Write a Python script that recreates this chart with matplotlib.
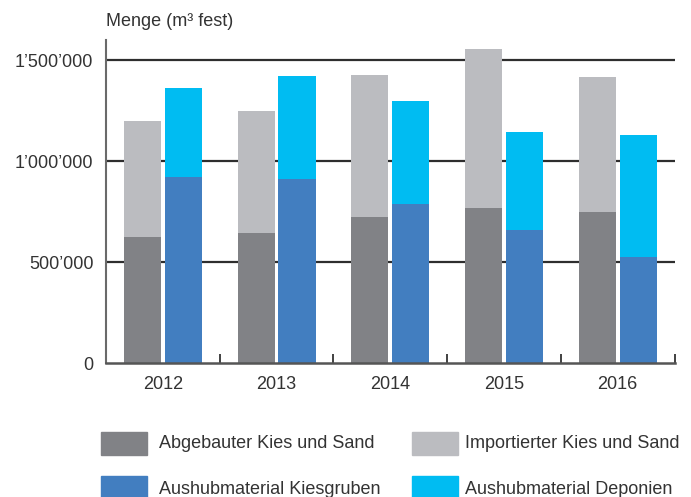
import numpy as np
import matplotlib
matplotlib.use("Agg")
import matplotlib.pyplot as plt
from matplotlib.patches import Rectangle
from matplotlib.ticker import FuncFormatter

plt.rcParams['font.family'] = ['Liberation Sans', 'DejaVu Sans']

# Daten (m3 fest)
jahre = ['2012', '2013', '2014', '2015', '2016']
abgebaut = [625000, 647000, 722000, 767000, 747000]
importiert_total = [1200000, 1249000, 1428000, 1556000, 1418000]
kiesgruben = [922000, 912000, 786000, 658000, 525000]
aushub_total = [1363000, 1422000, 1300000, 1147000, 1132000]

importiert = [t - a for t, a in zip(importiert_total, abgebaut)]
deponien = [t - k for t, k in zip(aushub_total, kiesgruben)]

namen = ['Abgebauter Kies und Sand', 'Importierter Kies und Sand',
         'Aushubmaterial Kiesgruben', 'Aushubmaterial Deponien']
farben = ['#818286', '#bbbcc0', '#427ec0', '#00bcf2']
textfarbe = '#333333'

W, H = 691, 497
fig = plt.figure(figsize=(W / 100, H / 100), dpi=100)
ax = fig.add_axes([106 / W, 133.7 / H, (674.5 - 106) / W, (457 - 133.7) / H])

x = np.arange(len(jahre)) + 0.5
b = 0.326
d = 0.18
ax.bar(x - d, abgebaut, b, color=farben[0], zorder=3)
ax.bar(x - d, importiert, b, bottom=abgebaut, color=farben[1], zorder=3)
ax.bar(x + d, kiesgruben, b, color=farben[2], zorder=3)
ax.bar(x + d, deponien, b, bottom=kiesgruben, color=farben[3], zorder=3)

ax.set_xlim(0, len(jahre))
ax.set_ylim(0, 1600000)

# Gitterlinien
for v in [500000, 1000000, 1500000]:
    ax.axhline(v, color='#2e2e2e', lw=1.6, zorder=1)

ax.set_yticks([0, 500000, 1000000, 1500000])
ax.yaxis.set_major_formatter(FuncFormatter(
    lambda v, p: '0' if v == 0 else '{:,.0f}'.format(v).replace(',', '\u2019')))
ax.tick_params(axis='y', length=0, pad=9, labelsize=13, labelcolor=textfarbe)

ax.set_xticks(x)
ax.set_xticklabels(jahre)
ax.set_xticks(np.arange(0, len(jahre) + 1), minor=True)
ax.tick_params(axis='x', which='major', length=0, pad=9, labelsize=13, labelcolor=textfarbe)
ax.tick_params(axis='x', which='minor', direction='in', length=6.5, width=1.3, color='#333333')

for s in ['top', 'right']:
    ax.spines[s].set_visible(False)
ax.spines['left'].set_color('#6a6a6a')
ax.spines['left'].set_linewidth(1.5)
ax.spines['bottom'].set_color('#555555')
ax.spines['bottom'].set_linewidth(1.8)
ax.spines['bottom'].set_zorder(4)

fig.text(106 / W, 1 - 22 / H, 'Menge (m\u00b3 fest)', fontsize=13, color=textfarbe,
         ha='left', va='center')

# Legende (Pixelpositionen: Kaestchen x, y oben, Text x, Text y Mitte)
pos = [(101, 432, 159, 444), (412, 432, 465, 444),
       (101, 476, 159, 490), (412, 476, 465, 490)]
for (px, py, tx, ty), name, f in zip(pos, namen, farben):
    fig.patches.append(Rectangle((px / W, 1 - (py + 23) / H), 46 / W, 23 / H,
                                 transform=fig.transFigure, color=f))
    fig.text(tx / W, 1 - ty / H, name, fontsize=13, color=textfarbe,
             ha='left', va='center')

fig.savefig('out.png', dpi=100)
